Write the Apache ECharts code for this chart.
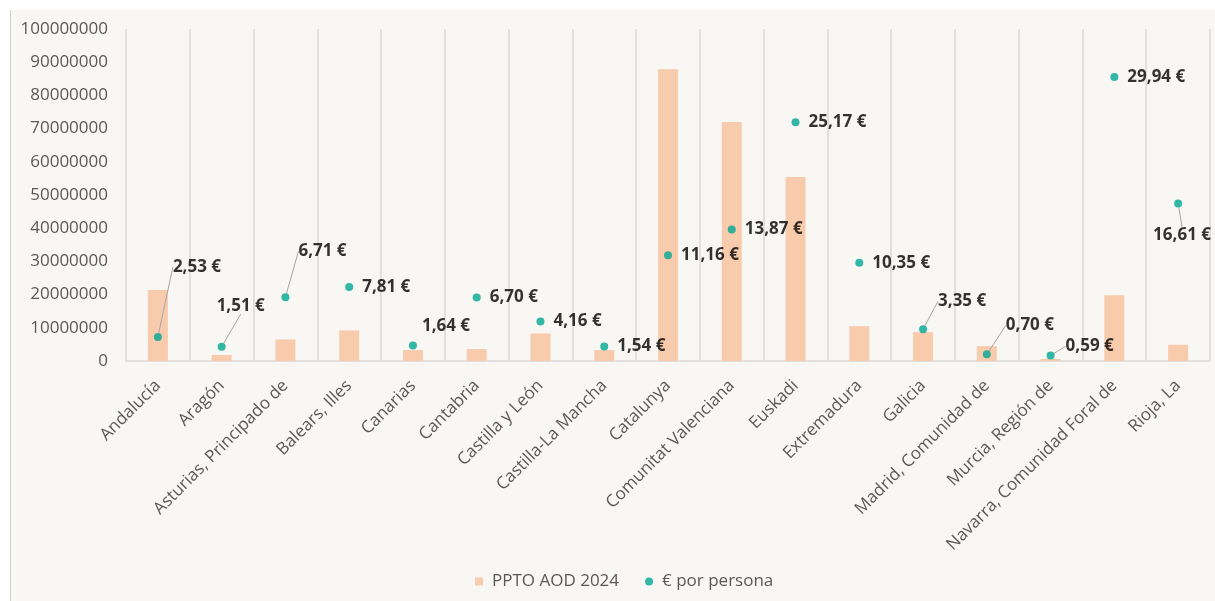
<!DOCTYPE html>
<html>
<head>
<meta charset="utf-8">
<script src="https://cdn.jsdelivr.net/npm/echarts@6/dist/echarts.min.js"></script>
<style>
  html, body { margin: 0; padding: 0; background: #ffffff; }
  .frame {
    position: absolute;
    left: 10px;
    top: 10px;
    width: 1205px;
    height: 591px;
    border-left: 1px solid #cfcfcf;
    background: #f8f7f3;
  }
  #chart { width: 1204px; height: 591px; }
</style>
</head>
<body>
<div class="frame"><div id="chart"></div></div>
<script>
  const regiones = [
    'Andalucía', 'Aragón', 'Asturias, Principado de', 'Balears, Illes', 'Canarias',
    'Cantabria', 'Castilla y León', 'Castilla-La Mancha', 'Catalunya', 'Comunitat Valenciana',
    'Euskadi', 'Extremadura', 'Galicia', 'Madrid, Comunidad de', 'Murcia, Región de',
    'Navarra, Comunidad Foral de', 'Rioja, La'
  ];
  // PPTO AOD 2024 (euros)
  const presupuesto = [
    21400000, 1800000, 6500000, 9200000, 3300000,
    3600000, 8300000, 3300000, 87900000, 72000000,
    55400000, 10500000, 8700000, 4500000, 600000,
    19800000, 4900000
  ];
  // € por persona
  const porPersona = [
    2.53, 1.51, 6.71, 7.81, 1.64,
    6.70, 4.16, 1.54, 11.16, 13.87,
    25.17, 10.35, 3.35, 0.70, 0.59,
    29.94, 16.61
  ];
  const ticksIzq = [0, 10000000, 20000000, 30000000, 40000000, 50000000, 60000000, 70000000, 80000000, 90000000, 100000000];

  // labels that sit away from their point (offset from the default right position)
  const nudge = {
    0: { dx: 2, dy: -70, line: true },
    1: { dx: -18, dy: -41, line: true },
    2: { dx: 0, dy: -46, line: true },
    4: { dx: -4, dy: -19, line: false },
    12: { dx: 2, dy: -28, line: true },
    13: { dx: 6, dy: -29, line: true },
    14: { dx: 2, dy: -9, line: true },
    16: { dx: -38, dy: 32, line: true }
  };

  const fmtEuro = v => v.toFixed(2).replace('.', ',') + ' €';
  const font = '"Open Sans", "Noto Sans", sans-serif';

  const chart = echarts.init(document.getElementById('chart'));

  const option = {
    backgroundColor: '#f8f7f3',
    textStyle: { fontFamily: font },
    grid: {
      left: 115,
      right: 5,
      top: 19,
      bottom: 240,
      containLabel: false
    },
    legend: {
      bottom: 6,
      left: 459,
      itemGap: 26,
      itemWidth: 8,
      itemHeight: 8,
      textStyle: { color: '#595959', fontSize: 17, fontFamily: font, padding: [0, 0, 0, 4] },
      data: [
        { name: 'PPTO AOD 2024', icon: 'rect' },
        { name: '€ por persona', icon: 'circle' }
      ]
    },
    xAxis: {
      type: 'category',
      data: regiones,
      axisTick: { show: false },
      axisLine: { lineStyle: { color: '#d9d9d9', width: 1.5 } },
      splitLine: { show: true, lineStyle: { color: '#d9d9d9', width: 1.5 } },
      axisLabel: {
        interval: 0,
        rotate: 45,
        margin: 22,
        color: '#595959',
        fontSize: 17,
        fontFamily: font
      }
    },
    yAxis: [
      {
        type: 'value',
        min: ticksIzq[0],
        max: ticksIzq[ticksIzq.length - 1],
        interval: ticksIzq[1] - ticksIzq[0],
        axisLine: { show: false },
        axisTick: { show: false },
        splitLine: { show: false },
        axisLabel: {
          margin: 18,
          color: '#595959',
          fontSize: 17,
          fontFamily: font,
          formatter: v => String(v)
        }
      },
      {
        type: 'value',
        min: 0,
        max: 35,
        show: false
      }
    ],
    series: [
      {
        name: 'PPTO AOD 2024',
        type: 'bar',
        barWidth: 20,
        itemStyle: { color: '#f8cbad' },
        data: presupuesto
      },
      {
        name: '€ por persona',
        type: 'scatter',
        yAxisIndex: 1,
        symbol: 'circle',
        symbolSize: 8,
        itemStyle: { color: '#00a591' },
        label: {
          show: true,
          position: 'right',
          distance: 9,
          color: '#000000',
          fontWeight: 'bold',
          fontSize: 17,
          fontFamily: font,
          formatter: p => fmtEuro(p.value)
        },
        labelLine: {
          show: false,
          lineStyle: { color: '#a6a6a6', width: 1 }
        },
        labelLayout: p => {
          const n = nudge[p.dataIndex];
          return n ? { dx: n.dx, dy: n.dy } : {};
        },
        data: porPersona.map((v, i) => ({
          value: v,
          labelLine: { show: !!(nudge[i] && nudge[i].line) }
        }))
      }
    ]
  };

  chart.setOption(option);
</script>
</body>
</html>
